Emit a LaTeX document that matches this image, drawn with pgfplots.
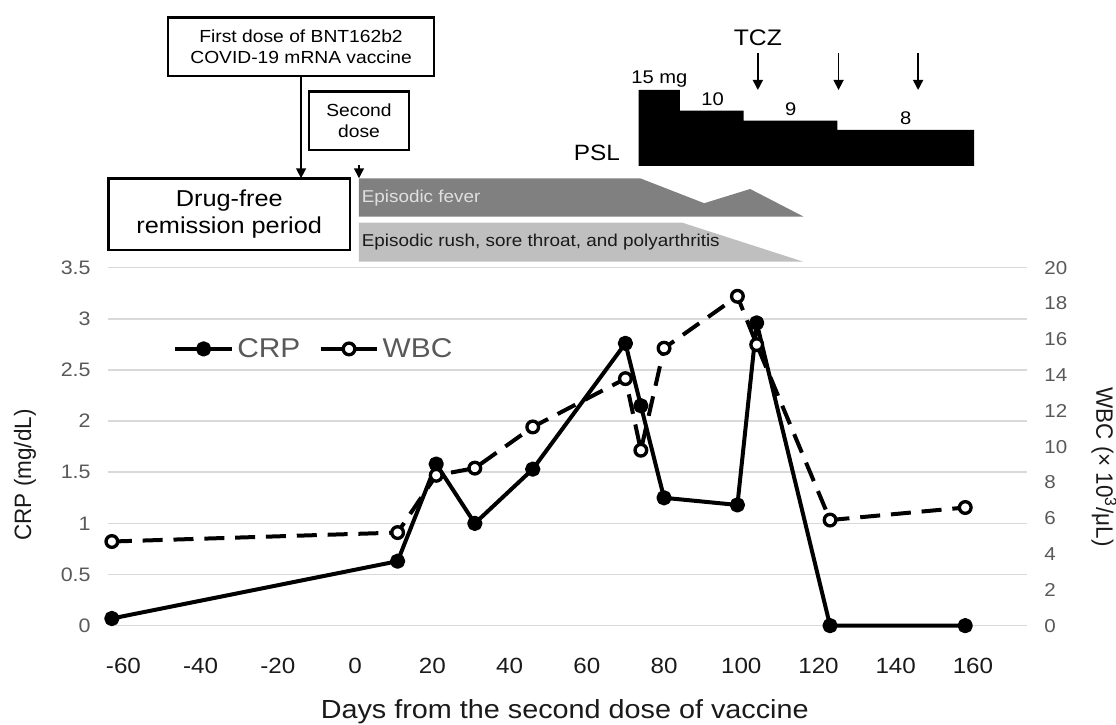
\documentclass[border=0pt]{standalone}
\usepackage{fontspec}
\setmainfont{Liberation Sans}[FakeStretch=1.1]
\newfontfamily\rotfont{Liberation Sans}[FakeStretch=0.95]
\usepackage{pgfplots}
\pgfplotsset{compat=1.18}
\usetikzlibrary{arrows.meta}

\definecolor{gridgray}{HTML}{D9D9D9}
\definecolor{labgray}{HTML}{595959}
\definecolor{fevergray}{HTML}{808080}
\definecolor{rushgray}{HTML}{BFBFBF}
\definecolor{darktext}{HTML}{1A1A1A}

\newcommand{\fs}[2]{\fontsize{#1}{#2}\selectfont}

\begin{document}
\begin{tikzpicture}[x=1pt,y=1pt]
\path[use as bounding box] (0,0) rectangle (669.6,435);

% left axis: CRP, plus the time-line annotations above the plot
\begin{axis}[
  at={(64.8pt,59.6pt)}, anchor=south west,
  scale only axis, width=551.4pt, height=214.8pt,
  xmin=-64, xmax=174, ymin=0, ymax=3.5,
  clip=false,
  axis x line*=bottom, axis y line*=left,
  axis line style={draw=none},
  major tick length=0pt,
  xtick={-60,-40,...,160},
  ytick={0,0.5,...,3.5},
  ymajorgrids, grid style={gridgray, line width=0.9pt},
  /pgf/number format/assume math mode=true,
  xticklabel style={font=\fs{13.2}{15}, text=darktext, yshift=-16pt},
  yticklabel style={font=\fs{11.7}{14}, text=labgray, xshift=-6.9pt},
  xlabel={Days from the second dose of vaccine},
  every axis x label/.style={at={(rel axis cs:0.497,-0.241)}, anchor=center, font=\fs{15.7}{18}, text=darktext},
  ylabel={CRP (mg/dL)},
  every axis y label/.style={at={(rel axis cs:-0.0903,0.421)}, rotate=90, anchor=center, font=\rotfont\fs{14.2}{16}, text=darktext},
  legend style={draw=none, fill=none, at={(rel axis cs:0.0707,0.773)}, anchor=west,
    legend columns=2, font=\fs{16.3}{18}, text=labgray, inner sep=0pt,
    /tikz/every even column/.append style={column sep=9pt}},
  legend image code/.code={\draw[mark repeat=2,mark phase=2,#1] plot coordinates {(0pt,0pt) (17pt,0pt) (34pt,0pt)};},
]

% symptom bars
\addplot[fill=fevergray, draw=none, mark=none, forget plot] coordinates {(1,4.0) (1,4.374) (73.8,4.374) (90.4,4.13) (102.3,4.269) (116.1,4.0)} -- cycle;
\addplot[fill=rushgray, draw=none, mark=none, forget plot] coordinates {(1,3.559) (1,3.94) (84.7,3.94) (116,3.559)} -- cycle;
\node[font=\fs{10.3}{12}, text=white!88!black, anchor=west, inner sep=1.5pt] at (axis cs:1,4.178) {Episodic fever};
\node[font=\fs{10.3}{12}, text=darktext, anchor=west, inner sep=1.5pt] at (axis cs:1,3.754) {Episodic rush, sore throat, and polyarthritis};

% PSL dose steps
\addplot[fill=black, draw=none, mark=none, forget plot] coordinates {(73.4,4.494) (73.4,5.237) (84.1,5.237) (84.1,5.035) (100.6,5.035) (100.6,4.937) (124.9,4.937) (124.9,4.846) (160.3,4.846) (160.3,4.494)} -- cycle;
\node[font=\fs{13.3}{15}] at (axis cs:62.6,4.618) {PSL};
\node[font=\fs{11}{13}] at (axis cs:78.8,5.345) {15 mg};
\node[font=\fs{11}{13}] at (axis cs:92.6,5.146) {10};
\node[font=\fs{11}{13}] at (axis cs:112.8,5.049) {9};
\node[font=\fs{11}{13}] at (axis cs:142.6,4.961) {8};

% TCZ doses
\node[font=\fs{13.5}{15}] at (axis cs:104.3,5.746) {TCZ};
\draw[line width=0.9pt, -{Triangle[width=6pt,length=6pt]}] (axis cs:104.3,5.596) -- (axis cs:104.3,5.237);
\draw[line width=0.9pt, -{Triangle[width=6pt,length=6pt]}] (axis cs:125.2,5.596) -- (axis cs:125.2,5.237);
\draw[line width=0.9pt, -{Triangle[width=6pt,length=6pt]}] (axis cs:145.8,5.596) -- (axis cs:145.8,5.237);

% vaccine boxes
\node[draw=black, line width=1.6pt, fill=white, minimum width=145pt, minimum height=43pt, inner sep=0pt, align=center, font=\fs{13.8}{16.6}] at (axis cs:-32.6,4.023) {Drug-free\\remission period};
\node[draw=black, line width=1.5pt, fill=white, minimum width=159.6pt, minimum height=35.2pt, inner sep=0pt, align=center, font=\fs{10.5}{12.6}] at (axis cs:-14,5.661) {First dose of BNT162b2\\COVID-19 mRNA vaccine};
\node[draw=black, line width=1.5pt, fill=white, minimum width=60pt, minimum height=35pt, inner sep=0pt, align=center, font=\fs{10.5}{12.6}] at (axis cs:1,4.936) {Second\\dose};
\draw[line width=0.9pt, -{Triangle[width=6pt,length=6pt]}] (axis cs:-14,5.374) -- (axis cs:-14,4.374);
\draw[line width=0.9pt, -{Triangle[width=6pt,length=6pt]}] (axis cs:1,4.506) -- (axis cs:1,4.374);

% CRP
\addplot[black, line width=2.4pt, line join=round, mark=*, mark size=3.4pt, mark options={solid}] coordinates {
  (-63,0.07) (11,0.63) (21,1.58) (31,1.0) (46,1.53) (70,2.76) (74,2.15) (80,1.25) (99,1.18) (104,2.96) (123,0) (158,0)
};
\addlegendentry{CRP}
\addlegendimage{black, line width=2.4pt, mark=*, mark size=3.5pt, mark options={solid, fill=white, line width=2pt}}
\addlegendentry{WBC}
\end{axis}

% right axis: WBC
\begin{axis}[
  at={(64.8pt,59.6pt)}, anchor=south west,
  scale only axis, width=551.4pt, height=214.8pt,
  xmin=-64, xmax=174, ymin=0, ymax=20,
  hide x axis, axis y line*=right,
  axis line style={draw=none}, major tick length=0pt,
  ytick={0,2,...,20},
  /pgf/number format/assume math mode=true,
  yticklabel style={font=\fs{11.2}{13}, text=labgray, xshift=6.9pt},
  ylabel={WBC (× 10\textsuperscript{3}/μL)},
  every axis y label/.style={at={(rel axis cs:1.0838,0.443)}, rotate=-90, anchor=center, font=\rotfont\fs{14.2}{16}, text=darktext},
]
\addplot[black, line width=2.4pt, dash pattern=on 12pt off 6.5pt, mark=*, mark size=3.5pt, mark options={solid, fill=white, line width=2pt}] coordinates {
  (-63,4.7) (11,5.2) (21,8.4) (31,8.8) (46,11.1) (70,13.8) (74,9.8) (80,15.5) (99,18.4) (104,15.7) (123,5.9) (158,6.6)
};
\end{axis}
\end{tikzpicture}
\end{document}
